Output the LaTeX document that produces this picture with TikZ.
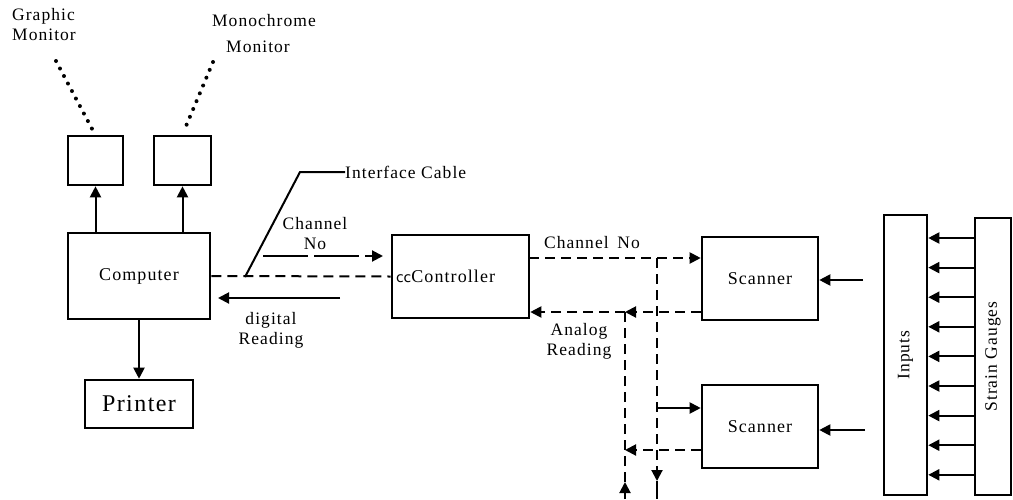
\documentclass[tikz,border=0pt]{standalone}
\usepackage{fontspec}
\setmainfont{Liberation Serif}[LetterSpace=6]
\newfontfamily\ccfont{DejaVu Sans}
\usetikzlibrary{arrows.meta,calc}
\begin{document}
\begin{tikzpicture}[x=1pt,y=-1pt,
  box/.style={draw,line width=2.6pt,inner sep=0pt,font=\fontsize{18}{20}\selectfont},
  conn/.style={line width=2pt},
  tip/.style={-{Triangle[length=11pt,width=11pt]}},
  arr/.style={conn,tip},
  dsh/.style={conn,dash pattern=on 10pt off 6pt},
  dots/.style={line width=4pt,line cap=round,dash pattern=on 0pt off 8.5pt},
  lbl/.style={font=\fontsize{17.5}{20}\selectfont,align=center,inner sep=0pt}]
\useasboundingbox (0,0) rectangle (1013,499);
% monitors
\node[box,minimum width=55pt,minimum height=49pt] (gm) at (95.5,160.5) {};
\node[box,minimum width=57pt,minimum height=49pt] (mm) at (182.5,160.5) {};
\node[lbl,align=left] (gml) at (44,25) {Graphic\\Monitor};
\node[lbl] (mml) at (264,34) {Monochrome\\[6pt]\hspace*{-12pt}Monitor};
\coordinate (gd) at (56,61);
\coordinate (md) at (213,62);
\draw[dots] (gd) -- ($(gm.north)+(-3,-5)$);
\draw[dots] (md) -- ($(mm.north)+(2,-5)$);
% computer and printer
\node[box,minimum width=142pt,minimum height=86pt] (comp) at (139,276) {Computer};
\node[box,minimum width=108pt,minimum height=48pt,font=\fontsize{24}{26}\selectfont] (pr) at (139,404) {Printer};
\draw[arr] (comp.north -| gm.south) -- (gm.south);
\draw[arr] (comp.north -| mm.south) -- (mm.south);
\draw[arr] (comp.south) -- (pr.north);
% controller
\node[box,minimum width=137pt,minimum height=83pt,text width=129pt,align=left] (ctrl) at (460.5,276.5) {{\ccfont\fontsize{14}{16}\selectfont cc}Controller};
\draw[dsh] (comp.east) -- (ctrl.west);
% interface cable
\coordinate (ic1) at (245,277);
\coordinate (ic2) at (300,172);
\node[lbl,anchor=west] (icl) at (345,172) {Interface Cable};
\draw[conn] (ic1) -- (ic2) -- (icl.west);
\coordinate (cn1) at (263,256);
\coordinate (cn2) at (383,256);
\draw[arr,dash pattern=on 45pt off 6pt] (cn1) -- (cn2);
\node[lbl] (cnl) at (315,234) {Channel\\No};
\coordinate (dr1) at (340,298);
\coordinate (dr2) at (218,298);
\draw[arr] (dr1) -- (dr2);
\node[lbl] (drl) at (271,330) {digital\\Reading};
% scanners
\node[box,minimum width=116pt,minimum height=83pt] (sc1) at (760,278.5) {Scanner};
\node[box,minimum width=116pt,minimum height=83pt] (sc2) at (760,426.5) {Scanner};
\coordinate (c1) at (529,258);
\draw[dsh,tip] (c1) -- (c1 -| sc1.west);
\node[lbl] (cnt) at (592,243) {Channel\enspace No};
\coordinate (b1) at (657,258);
\coordinate (b1a) at (657,481);
\coordinate (b1b) at (657,499);
\draw[dsh,tip] (b1) -- (b1a);
\draw[conn] (b1a) -- (b1b);
\coordinate (b1c) at (657,408);
\draw[arr] (b1c) -- (b1c -| sc2.west);
% analog return
\coordinate (a1) at (625,312);
\coordinate (a2) at (625,450);
\coordinate (a3) at (625,482);
\coordinate (a4) at (625,499);
\draw[dsh,tip] (a1 -| sc1.west) -- (a1);
\draw[dsh,tip] (a1) -- (a1 -| ctrl.east);
\draw[dsh] (a3) -- (a1);
\draw[arr] (a4) -- (a3);
\draw[dsh,tip] (a2 -| sc2.west) -- (a2);
\node[lbl] (arl) at (579,341) {Analog\\Reading};
% inputs and strain gauges
\node[box,minimum width=43pt,minimum height=280pt] (in) at (905.5,355) {};
\node[lbl,rotate=90] (inl) at (in.center) {Inputs};
\node[box,minimum width=36pt,minimum height=277pt] (sg) at (993,356.5) {};
\node[lbl,rotate=90] (sgl) at (sg.center) {Strain Gauges};
\coordinate (s1) at (863,280);
\coordinate (s2) at (865,430);
\draw[arr] (s1) -- (s1 -| sc1.east);
\draw[arr] (s2) -- (s2 -| sc2.east);
\foreach \yy in {238,267.6,297.2,326.8,356.4,386,415.6,445.2,474.8}{
  \coordinate (t) at (0,\yy);
  \draw[arr] (sg.west |- t) -- (in.east |- t);
}
\end{tikzpicture}
\end{document}
